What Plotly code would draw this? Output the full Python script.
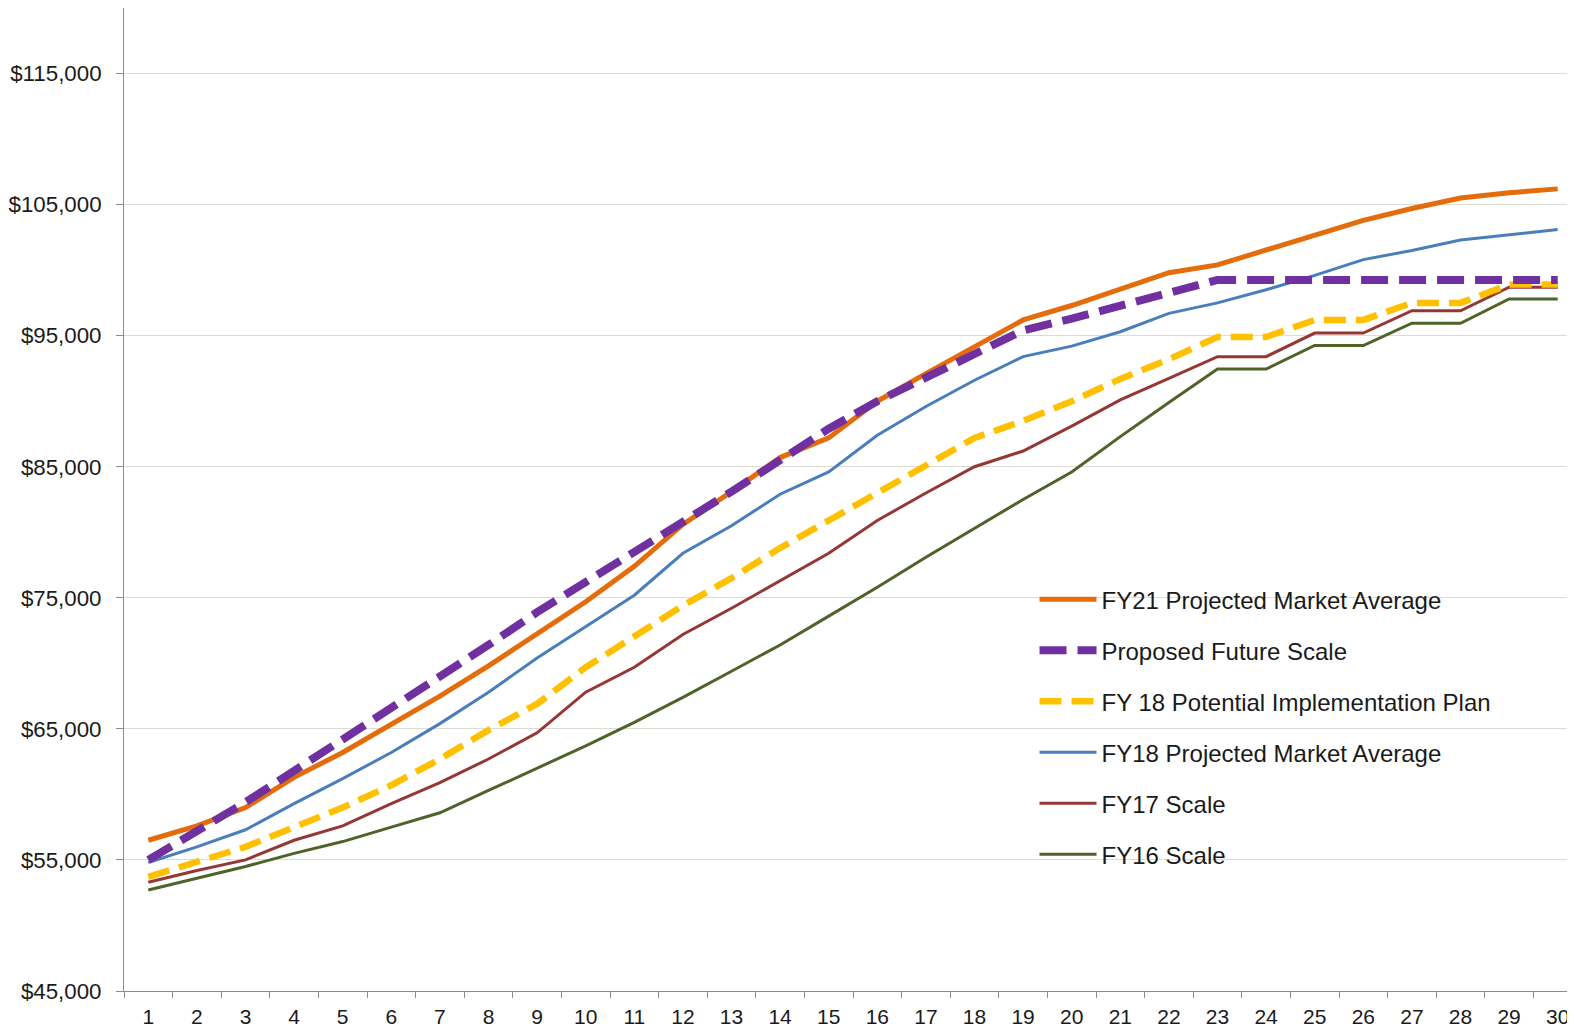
import plotly.graph_objects as go

steps = [str(i) for i in range(1, 31)]

fy21_market = [56500, 57600, 59000, 61300, 63200, 65300, 67500, 69800, 72300, 74700,
               77400, 80600, 83100, 85700, 87200, 90000, 92100, 94200, 96200, 97300,
               98500, 99800, 100400, 101500, 102700, 103800, 104700, 105500, 105900, 106200]
proposed = [55000, 57200, 59400, 61800, 64200, 66500, 68900, 71400, 73900, 76200,
            78400, 80800, 83100, 85500, 87900, 90000, 91800, 93500, 95400, 96300,
            97300, 98300, 99250, 99250, 99250, 99250, 99250, 99250, 99250, 99250]
fy18_plan = [53700, 54900, 56000, 57500, 59000, 60700, 62700, 64900, 66900, 69700,
             72000, 74400, 76500, 78800, 80900, 83000, 85200, 87200, 88500, 90000,
             91700, 93200, 94900, 94900, 96200, 96200, 97500, 97500, 98900, 98900]
fy18_market = [54800, 56000, 57300, 59300, 61200, 63200, 65400, 67800, 70400, 72800,
               75200, 78400, 80500, 82900, 84600, 87400, 89600, 91600, 93400, 94200,
               95300, 96700, 97500, 98500, 99600, 100800, 101500, 102300, 102700, 103100]
fy17_scale = [53300, 54200, 55000, 56500, 57600, 59300, 60900, 62700, 64700, 67800,
              69700, 72200, 74200, 76300, 78400, 80900, 83000, 85000, 86200, 88100,
              90100, 91750, 93400, 93400, 95200, 95200, 96900, 96900, 98700, 98700]
fy16_scale = [52700, 53600, 54500, 55500, 56400, 57500, 58600, 60300, 62000, 63700,
              65500, 67400, 69400, 71400, 73600, 75800, 78100, 80300, 82500, 84600,
              87300, 89900, 92450, 92450, 94250, 94250, 95950, 95950, 97800, 97800]

y_ticks = [45000, 55000, 65000, 75000, 85000, 95000, 105000, 115000]
y_tick_labels = ["$45,000", "$55,000", "$65,000", "$75,000",
                 "$85,000", "$95,000", "$105,000", "$115,000"]

# (name, data, color, width, dash, legend rank) in drawing order
series = [
    ("FY16 Scale", fy16_scale, "#4F6228", 3, "solid", 6),
    ("FY17 Scale", fy17_scale, "#953735", 3, "solid", 5),
    ("FY18 Projected Market Average", fy18_market, "#4A7EBB", 3, "solid", 4),
    ("FY21 Projected Market Average", fy21_market, "#E46C0A", 5, "solid", 1),
    ("FY 18 Potential Implementation Plan", fy18_plan, "#FFC000", 6.5, "22px,10px", 3),
    ("Proposed Future Scale", proposed, "#7030A0", 8, "27px,11px", 2),
]

fig = go.Figure()
for name, data, color, width, dash, rank in series:
    fig.add_trace(go.Scatter(
        x=steps, y=data, mode="lines", name=name,
        line=dict(color=color, width=width, dash=dash),
        legendrank=rank, legendgroup=name,
    ))

# the page body adds an 8px offset; margins compensate for it
fig.update_layout(
    width=1575, height=1031,
    margin=dict(l=116, r=1, t=0, b=48, autoexpand=False),
    paper_bgcolor="white", plot_bgcolor="white",
    font=dict(family="Liberation Sans, Arial, sans-serif", color="#1a1a1a"),
    showlegend=True,
    legend=dict(
        x=0.6245, y=0.421, xanchor="left", yanchor="top",
        bgcolor="rgba(255,255,255,0)",
        font=dict(size=24, color="#1a1a1a"),
        tracegroupgap=16.8, itemwidth=57,
    ),
)

fig.update_xaxes(
    type="category", range=[-0.5, 29.5], automargin=False,
    showgrid=False, showline=True, linecolor="#8c8c8c", linewidth=1,
    ticks="outside", tickson="boundaries", ticklen=6, tickcolor="#8c8c8c",
    tickfont=dict(size=21), zeroline=False, ticklabelstandoff=7,
)
fig.update_yaxes(
    range=[45000, 120000], tickvals=y_ticks, ticktext=y_tick_labels, automargin=False,
    showgrid=True, gridcolor="#dcdcd2", gridwidth=1,
    showline=True, linecolor="#8c8c8c", linewidth=1,
    ticks="outside", ticklen=7, tickcolor="#8c8c8c",
    tickfont=dict(size=22.3), zeroline=False, ticklabelstandoff=10,
)

fig.write_html("out.html")
